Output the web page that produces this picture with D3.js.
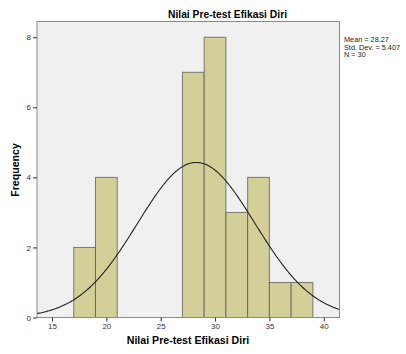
<!DOCTYPE html>
<html><head><meta charset="utf-8">
<script src="https://cdn.jsdelivr.net/npm/d3@7"></script>
<style>body{margin:0;background:#fff}svg{display:block}</style>
</head><body>
<script>
const binStarts = [17, 19, 27, 29, 31, 33, 35, 37];
const binCounts = [2, 4, 7, 8, 3, 4, 1, 1];
const binWidth = 2;
const xTicks = [15, 20, 25, 30, 35, 40];
const yTicks = [0, 2, 4, 6, 8];
const mean = 28.27, sd = 5.407, n = 30;
const statsLines = ["Mean = 28.27", "Std. Dev. = 5.407", "N = 30"];

const W = 406, H = 354;
const L = 37, R = 339.5, T = 21.5, B = 317.5;
const svg = d3.select("body").append("svg").attr("width", W).attr("height", H);
const font = "Liberation Sans, Arial, sans-serif";

const x = d3.scaleLinear().domain([13.62, 41.45]).range([L, R]);
const y = d3.scaleLinear().domain([0, 8.45]).range([B, T]);

svg.append("rect").attr("x", L).attr("y", T).attr("width", R - L).attr("height", B - T)
  .attr("fill", "#f0f0f0").attr("stroke", "none");

const g = svg.append("g");
g.selectAll("rect.bar").data(binStarts).enter().append("rect")
  .attr("x", (d) => x(d)).attr("y", (d, i) => y(binCounts[i]))
  .attr("width", (d) => x(d + binWidth) - x(d))
  .attr("height", (d, i) => y(0) - y(binCounts[i]))
  .attr("fill", "#d3cf98").attr("stroke", "#555").attr("stroke-opacity", 0.75).attr("stroke-width", 1);

const pdf = (v) => n * binWidth * Math.exp(-0.5 * ((v - mean) / sd) ** 2) / (sd * Math.sqrt(2 * Math.PI));
const pts = d3.range(13.62, 41.46, 0.1).map(v => [v, pdf(v)]);
svg.append("path").attr("d", d3.line().x(d => x(d[0])).y(d => y(d[1]))(pts))
  .attr("fill", "none").attr("stroke", "#222").attr("stroke-width", 1.1);

svg.append("rect").attr("x", L).attr("y", T).attr("width", R - L).attr("height", B - T)
  .attr("fill", "none").attr("stroke", "#8a8a8a").attr("stroke-width", 1);

const xa = svg.append("g").attr("transform", `translate(0,${B})`)
  .call(d3.axisBottom(x).tickValues(xTicks).tickSize(4).tickPadding(2).tickSizeOuter(0));
const ya = svg.append("g").attr("transform", `translate(${L},0)`)
  .call(d3.axisLeft(y).tickValues(yTicks).tickSize(4).tickPadding(2).tickSizeOuter(0));
[xa, ya].forEach(a => {
  a.select(".domain").remove();
  a.selectAll("line").attr("stroke", "#333");
  a.selectAll("text").attr("fill", "#333").style("font-family", font).style("font-size", "8px");
});

svg.append("text").attr("x", 227.5).attr("y", 17.5).attr("text-anchor", "middle")
  .style("font-family", font).style("font-size", "10.3px").style("font-weight", "bold").text("Nilai Pre-test Efikasi Diri");
svg.append("text").attr("x", 188).attr("y", 344).attr("text-anchor", "middle")
  .style("font-family", font).style("font-size", "10.6px").style("font-weight", "bold").text("Nilai Pre-test Efikasi Diri");
svg.append("text").attr("transform", "translate(19,170) rotate(-90)").attr("text-anchor", "middle")
  .style("font-family", font).style("font-size", "10.6px").style("font-weight", "bold").text("Frequency");

svg.append("g").selectAll("text").data(statsLines).enter().append("text")
  .attr("x", 344).attr("y", (d, i) => 42 + i * 7.5)
  .style("font-family", font).style("font-size", "7.3px").attr("fill", "#222").text(d => d);
</script>
</body></html>
